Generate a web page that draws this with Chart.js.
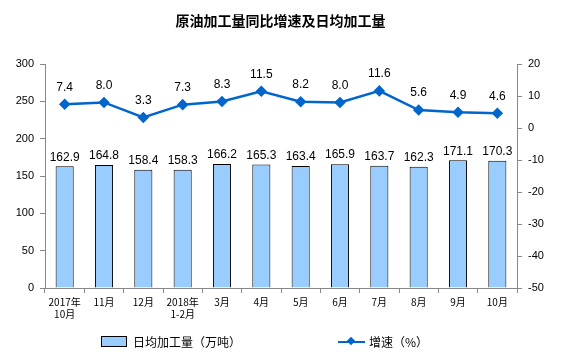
<!DOCTYPE html>
<html>
<head>
<meta charset="utf-8">
<script src="https://cdn.jsdelivr.net/npm/chart.js@4/dist/chart.umd.min.js"></script>
<style>
  body { margin: 0; background: #fff; }
  #wrap { position: relative; width: 561px; height: 358px; font-family: "Noto Sans CJK SC", sans-serif; }
  #title { position: absolute; top: 10px; left: 0; width: 561px; text-align: center; font-size: 14px; font-weight: bold; color: #000; }
  .leg { position: absolute; top: 333px; font-size: 12px; color: #000; display: flex; align-items: center; }
  .box { width: 24px; height: 9px; background: #99ccff; border: 1px solid #000; margin-right: 6px; }
  .ln { width: 27px; height: 2px; background: #0066cc; position: relative; margin-right: 4px; }
  .ln::after { content: ""; position: absolute; left: 10px; top: -3px; width: 6px; height: 6px; background: #0066cc; transform: rotate(45deg); }
</style>
</head>
<body>
<div id="wrap">
  <canvas id="c" width="561" height="358"></canvas>
  <div id="title">原油加工量同比增速及日均加工量</div>
  <div class="leg" style="left:101px"><span class="box"></span>日均加工量（万吨）</div>
  <div class="leg" style="left:338px"><span class="ln"></span>增速（%）</div>
</div>
<script>
// data
const months = [["2017年", "10月"], "11月", "12月", ["2018年", "1-2月"], "3月", "4月", "5月", "6月", "7月", "8月", "9月", "10月"];
const dailyOutput = [162.9, 164.8, 158.4, 158.3, 166.2, 165.3, 163.4, 165.9, 163.7, 162.3, 171.1, 170.3];
const growthRate = [7.4, 8.0, 3.3, 7.3, 8.3, 11.5, 8.2, 8.0, 11.6, 5.6, 4.9, 4.6];

// value labels above bars and points
const valueLabels = {
    id: "valueLabels",
    afterDatasetsDraw(chart) {
        const ctx = chart.ctx;
        ctx.save();
        ctx.font = "12px 'Liberation Sans', Arial";
        ctx.fillStyle = "#000";
        ctx.textAlign = "center";
        ctx.textBaseline = "bottom";
        chart.getDatasetMeta(1).data.forEach((bar, i) => {
            ctx.fillText(dailyOutput[i].toFixed(1), bar.x, bar.y - 3);
        });
        chart.getDatasetMeta(0).data.forEach((pt, i) => {
            ctx.fillText(growthRate[i].toFixed(1), pt.x, pt.y - 11);
        });
        ctx.restore();
    }
};

const tickFont = { family: "'Liberation Sans', Arial", size: 11 };

new Chart(document.getElementById("c"), {
    data: {
        labels: months,
        datasets: [{
            type: "line",
            data: growthRate,
            yAxisID: "y1",
            borderColor: "#0066cc",
            backgroundColor: "#0066cc",
            borderWidth: 2.5,
            pointStyle: "rectRot",
            pointRadius: 4,
            tension: 0
        }, {
            type: "bar",
            data: dailyOutput,
            yAxisID: "y",
            backgroundColor: "#99ccff",
            borderColor: "#000",
            borderWidth: 1,
            barPercentage: 0.46,
            categoryPercentage: 1
        }]
    },
    options: {
        responsive: false,
        animation: false,
        layout: { padding: { top: 64, bottom: 0, left: 0, right: 0 } },
        plugins: { legend: { display: false }, tooltip: { enabled: false } },
        scales: {
            x: {
                grid: { drawOnChartArea: false, tickLength: 5, color: "#888" },
                border: { color: "#888" },
                ticks: { font: { family: "'Noto Sans CJK SC'", size: 10 }, color: "#000", maxRotation: 0, autoSkip: false, padding: 3 },
                afterFit: s => { s.height = 70; }
            },
            y: {
                position: "left",
                min: 0, max: 300,
                ticks: { stepSize: 50, font: tickFont, color: "#000", padding: 6 },
                grid: { drawOnChartArea: false, tickLength: 5, color: "#888" },
                border: { color: "#888" },
                afterFit: s => { s.width = 45; }
            },
            y1: {
                position: "right",
                min: -50, max: 20,
                ticks: { stepSize: 10, font: tickFont, color: "#000", padding: 6 },
                grid: { drawOnChartArea: false, tickLength: 5, color: "#888" },
                border: { color: "#888" },
                afterFit: s => { s.width = 44; }
            }
        }
    },
    plugins: [valueLabels]
});
</script>
</body>
</html>
